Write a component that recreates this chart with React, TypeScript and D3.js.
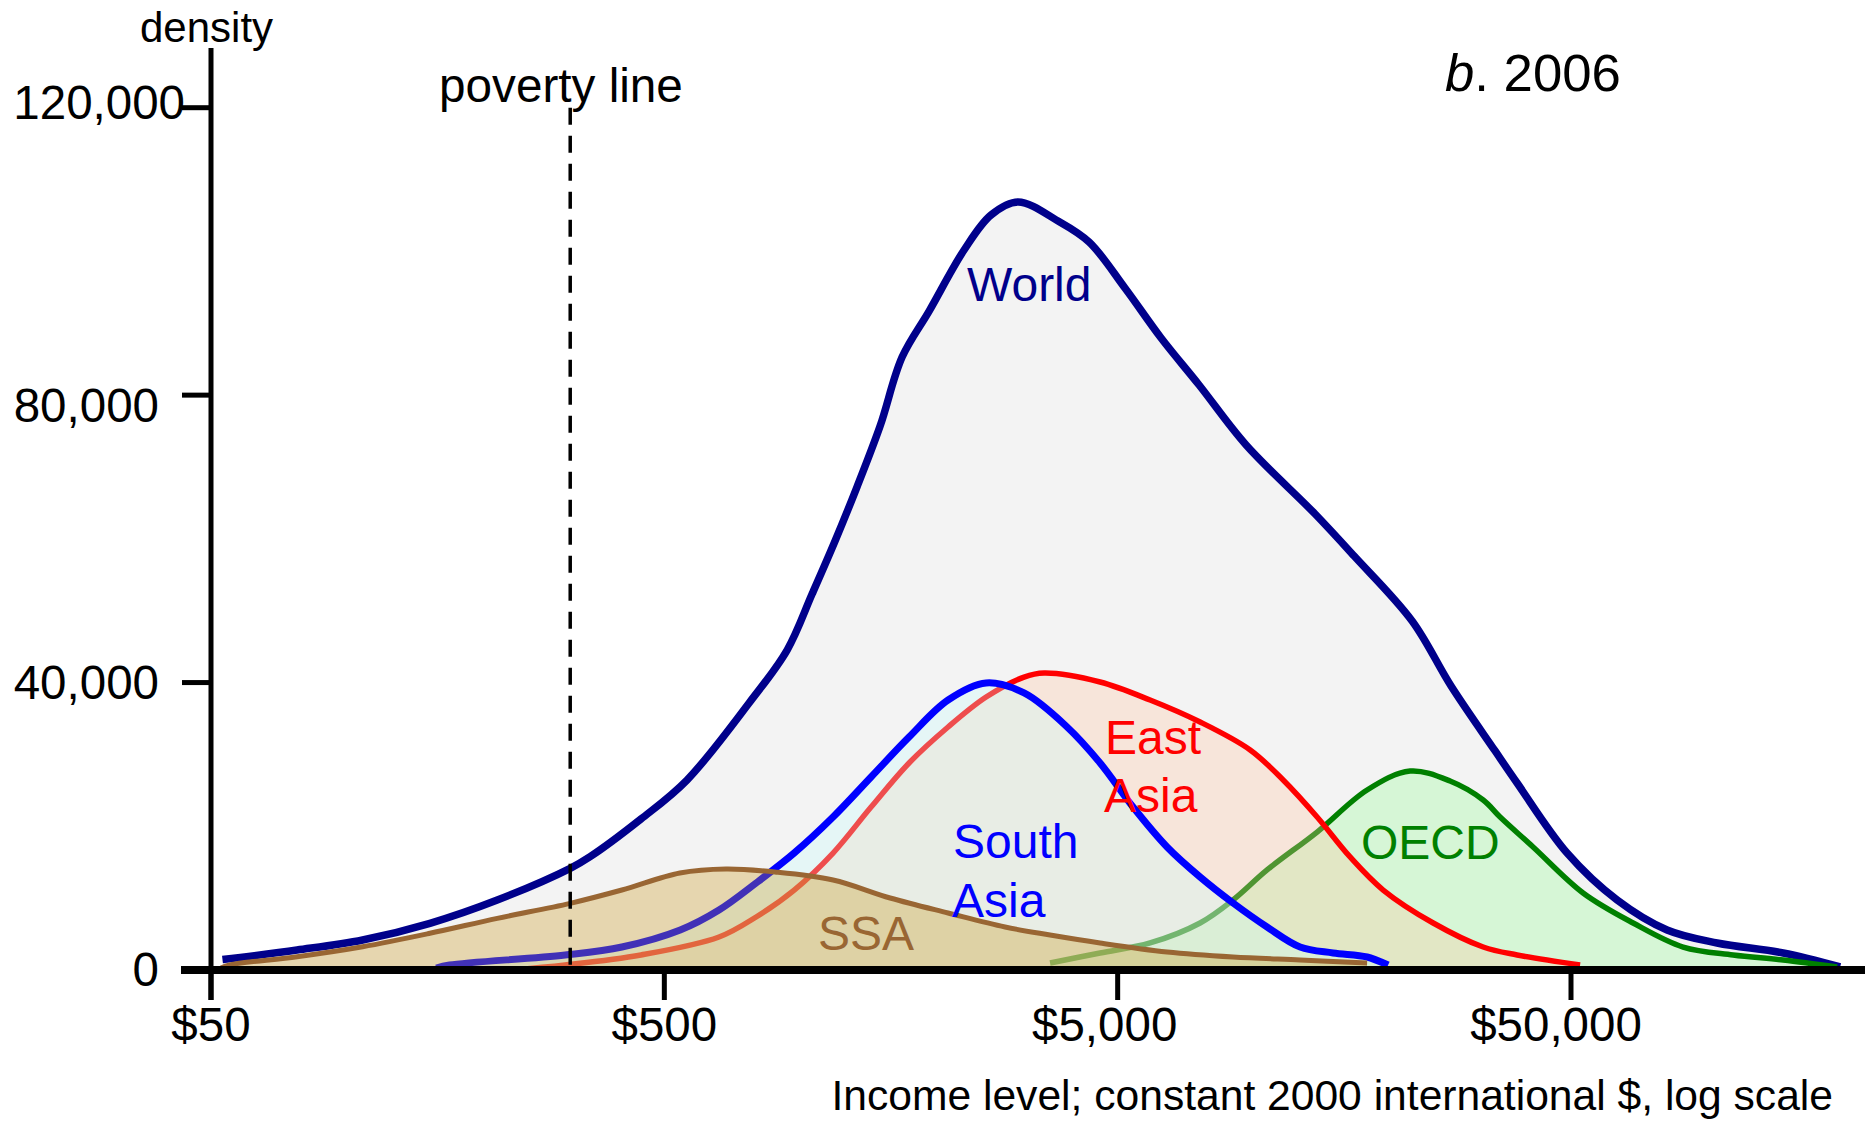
import React from "react";
import * as d3 from "d3";

// ---- data (income in constant 2000 international $, density) ----
const incomeTicks = [50, 500, 5000, 50000];
const incomeTickLabels = ["$50", "$500", "$5,000", "$50,000"];
const densityTicks = [0, 40000, 80000, 120000];
const densityTickLabels = ["0", "40,000", "80,000", "120,000"];
const povertyLine = 310;

const worldIncome = [53, 77.4, 108, 152, 214, 310, 343, 444, 561, 769, 933, 1059, 1190, 1330, 1496, 1673, 1919, 2292, 2628, 3015, 3694, 4324, 5188, 6234, 7561, 9600, 13630, 16620, 22310, 27190, 34010, 38030, 49020, 63200, 81460, 105000, 146900, 196200];
const worldDensity = [1450, 2780, 4180, 6500, 9740, 14150, 15770, 21010, 26440, 37160, 44530, 52320, 59700, 67210, 75700, 85300, 91700, 100200, 105070, 106880, 104230, 101310, 94910, 87950, 81410, 73060, 63460, 57610, 48570, 39520, 30480, 26020, 16280, 9740, 5570, 3760, 2370, 420];

const oecdIncome = [3547, 4573, 5895, 7600, 8985, 10680, 13770, 17750, 22080, 27050, 32010, 34880, 41240, 53160, 68550, 88370, 113900, 146900, 193200];
const oecdDensity = [970, 2370, 3760, 6540, 9740, 13920, 19200, 25050, 27690, 26300, 23660, 21290, 17120, 10720, 6540, 3200, 2090, 1390, 420];

const eastAsiaIncome = [230, 302, 444, 660, 797, 967, 1178, 1429, 1733, 2113, 2563, 3108, 3441, 4573, 5895, 7600, 9800, 11590, 13770, 16280, 19260, 24830, 32010, 38030, 52360];
const eastAsiaDensity = [0, 700, 2090, 4590, 7380, 11130, 16280, 22680, 28810, 33820, 37990, 40770, 41330, 40080, 37570, 34510, 30620, 26440, 21290, 15730, 11130, 6540, 3200, 2090, 700];

const southAsiaIncome = [157, 168, 302, 403, 542, 660, 797, 967, 1178, 1429, 1733, 2113, 2563, 3108, 3867, 4573, 5406, 6426, 7600, 8985, 10680, 12630, 14930, 17750, 19750];
const southAsiaDensity = [280, 700, 2090, 3200, 5570, 8350, 12110, 16280, 21290, 26860, 32420, 37570, 39940, 38550, 33820, 28810, 22680, 17120, 12940, 9320, 5980, 3200, 2370, 1810, 700];

const ssaIncome = [52.6, 55, 77.4, 108, 152, 214, 310, 403, 541, 684, 877, 1178, 1574, 2113, 2822, 3547, 4573, 6426, 8985, 12630, 17750];
const ssaDensity = [280, 700, 1850, 3240, 5110, 7190, 9280, 11130, 13500, 14060, 13640, 12520, 10020, 7930, 5980, 4870, 3760, 2510, 1810, 1390, 970];

const FONT = "'Liberation Sans', Arial, Helvetica, sans-serif";

type Pt = [number, number];
const zip = (a: number[], b: number[]): Pt[] => a.map((v, i) => [v, b[i]] as Pt);

export default function App() {
  const W = 1865;
  const H = 1124;
  const x = d3.scaleLog().domain([50, 50000]).range([211, 1571]);
  const y = d3.scaleLinear().domain([0, 120000]).range([970, 107.7]);

  const curve = d3.curveCatmullRom.alpha(0.5);
  const area = d3
    .area<Pt>()
    .x((d) => x(d[0]))
    .y0(y(0))
    .y1((d) => y(d[1]))
    .curve(curve);
  const line = d3
    .line<Pt>()
    .x((d) => x(d[0]))
    .y((d) => y(d[1]))
    .curve(curve);

  const series = [
    { key: "world", data: zip(worldIncome, worldDensity), fill: "#f3f3f3", stroke: "#00008b", sw: 7.5 },
    { key: "oecd", data: zip(oecdIncome, oecdDensity), fill: "rgba(150,255,150,0.3)", stroke: "#008000", sw: 5.5 },
    { key: "ea", data: zip(eastAsiaIncome, eastAsiaDensity), fill: "rgba(255,198,160,0.31)", stroke: "#ff0000", sw: 5.5 },
    { key: "sa", data: zip(southAsiaIncome, southAsiaDensity), fill: "rgba(200,255,255,0.3)", stroke: "#0000ff", sw: 7 },
    { key: "ssa", data: zip(ssaIncome, ssaDensity), fill: "rgba(202,151,31,0.32)", stroke: "#996633", sw: 5 },
  ];

  const axisX = x(50);
  const y0 = y(0);
  const yLabelNudge: Record<number, number> = { 0: 15.5, 40000: 16, 80000: 26.5, 120000: 11 };
  const xLabelNudge: Record<number, number> = { 50: 0, 500: 0, 5000: -13, 50000: -15 };

  return (
    <svg
      width={W}
      height={H}
      viewBox={`0 0 ${W} ${H}`}
      style={{ position: "absolute", left: 0, top: 0, display: "block", background: "#fff" }}
      fontFamily={FONT}
    >
      <rect x={0} y={0} width={W} height={H} fill="#fff" />
      {series.map((s) => (
        <g key={s.key}>
          <path d={area(s.data) || ""} fill={s.fill} stroke="none" />
          <path d={line(s.data) || ""} fill="none" stroke={s.stroke} strokeWidth={s.sw} strokeLinejoin="round" />
        </g>
      ))}

      {/* poverty line */}
      <line
        x1={x(povertyLine)}
        x2={x(povertyLine)}
        y1={y(120000)}
        y2={y0}
        stroke="#000"
        strokeWidth={3.5}
        strokeDasharray="17,11"
      />
      <text x={439} y={102} fontSize={47.7} fill="#000">poverty line</text>

      {/* y axis */}
      <line x1={axisX} x2={axisX} y1={48} y2={1000} stroke="#000" strokeWidth={5} />
      {densityTicks.map((v, i) => (
        <g key={v}>
          {v !== 0 && <line x1={axisX - 29} x2={axisX} y1={y(v)} y2={y(v)} stroke="#000" strokeWidth={5} />}
          <text
            x={v === 120000 ? axisX - 26 : axisX - 52}
            y={y(v) + yLabelNudge[v]}
            fontSize={47.5}
            textAnchor="end"
            fill="#000"
          >
            {densityTickLabels[i]}
          </text>
        </g>
      ))}
      <text x={140} y={42} fontSize={42} fill="#000">density</text>

      {/* x axis */}
      <line x1={181} x2={W} y1={y0} y2={y0} stroke="#000" strokeWidth={8} />
      {incomeTicks.map((v, i) => (
        <g key={v}>
          <line x1={x(v)} x2={x(v)} y1={y0} y2={1000} stroke="#000" strokeWidth={5} />
          <text x={x(v) + xLabelNudge[v]} y={1041} fontSize={47.5} textAnchor="middle" fill="#000">
            {incomeTickLabels[i]}
          </text>
        </g>
      ))}
      <text x={1833} y={1110} fontSize={42.6} textAnchor="end" fill="#000">
        Income level; constant 2000 international $, log scale
      </text>

      {/* series labels */}
      <text x={967} y={301} fontSize={48} fill="#00008b">World</text>
      <text x={1105} y={754} fontSize={48} fill="#ff0000">East</text>
      <text x={1104} y={812} fontSize={48} fill="#ff0000">Asia</text>
      <text x={953} y={858} fontSize={48} fill="#0000ff">South</text>
      <text x={952} y={917} fontSize={48} fill="#0000ff">Asia</text>
      <text x={1361} y={859} fontSize={48} fill="#008000">OECD</text>
      <text x={818} y={950} fontSize={48} fill="#996633">SSA</text>

      {/* panel title */}
      <text x={1445} y={91} fontSize={52.7} fill="#000">
        <tspan fontStyle="italic">b</tspan>. 2006
      </text>
    </svg>
  );
}
